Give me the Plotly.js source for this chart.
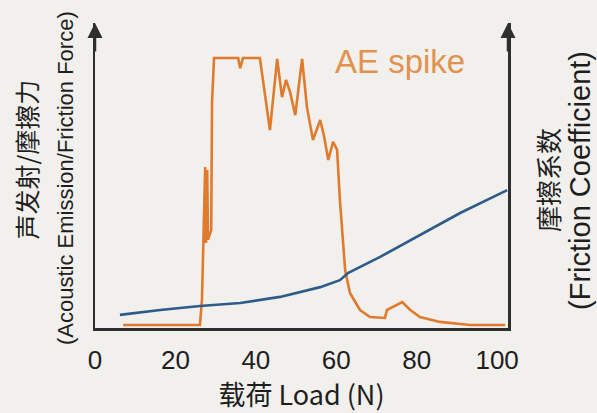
<!DOCTYPE html>
<html>
<head>
<meta charset="utf-8">
<script src="https://cdn.plot.ly/plotly-3.0.1.min.js"></script>
<style>
html,body{margin:0;padding:0;background:#f1f0ec;}
#chart{width:597px;height:413px;}
</style>
</head>
<body>
<div id="chart"></div>
<script>
// Load (N) for acoustic emission / friction force curve
const aeLoad = [7.0, 26.1, 26.6, 26.9, 27.4, 27.6, 27.9, 28.1, 28.9, 29.1, 29.6, 35.6, 36.1, 36.8, 41.0, 43.5, 45.3, 46.5, 47.5, 48.5, 49.8, 51.5, 52.7, 54.2, 56.0, 57.0, 58.0, 59.2, 60.2, 60.9, 61.7, 62.2, 63.4, 65.9, 68.4, 72.1, 72.6, 74.1, 76.4, 78.4, 80.8, 85.8, 93.3, 102.0];
const aeValue = [1.0, 1.0, 9.2, 28.9, 52.8, 27.9, 51.8, 28.9, 32.1, 73.8, 88.5, 88.5, 85.2, 88.5, 88.5, 64.9, 88.2, 75.7, 81.3, 77.4, 69.8, 88.2, 72.5, 61.6, 68.2, 62.6, 55.1, 61.0, 58.4, 42.0, 25.6, 19.0, 11.5, 5.9, 3.6, 3.3, 5.9, 6.9, 8.5, 5.9, 3.6, 2.0, 1.0, 1.0];
// Load (N) for friction coefficient curve
const muLoad = [6.2, 16.2, 26.1, 36.1, 46.0, 56.0, 60.9, 62.9, 70.9, 80.8, 90.8, 102.5];
const muValue = [0.043, 0.059, 0.072, 0.082, 0.102, 0.134, 0.157, 0.180, 0.233, 0.305, 0.377, 0.452];
const xTicks = [0, 20, 40, 60, 80, 100];

const bg = '#f1f0ec';
const axisColor = '#2f2f2f';

const traces = [
  {x: aeLoad, y: aeValue, type: 'scatter', mode: 'lines', name: 'AE',
   line: {color: '#e07a2c', width: 2.6}, yaxis: 'y', showlegend: false},
  {x: muLoad, y: muValue, type: 'scatter', mode: 'lines', name: 'μ',
   line: {color: '#2d5b8a', width: 2.6}, yaxis: 'y2', showlegend: false}
];

const layout = {
  width: 597, height: 413,
  paper_bgcolor: bg, plot_bgcolor: bg,
  margin: {l: 95, r: 89, t: 23, b: 85},
  showlegend: false,
  xaxis: {
    range: [0, 102.7], showgrid: false, zeroline: false,
    showline: true, linecolor: axisColor, linewidth: 2.5,
    tickvals: xTicks, ticktext: xTicks.map(String), ticks: '',
    ticklabelstandoff: 7,
    tickfont: {family: 'Liberation Sans, Arial, sans-serif', size: 26, color: '#1e1e1e'},
    title: {text: '载荷 Load (N)', standoff: 6,
      font: {family: 'Noto Sans CJK SC, sans-serif', size: 27, color: '#1e1e1e'}}
  },
  yaxis: {
    range: [0, 100], showgrid: false, zeroline: false,
    showline: true, linecolor: axisColor, linewidth: 2.5,
    showticklabels: false, ticks: ''
  },
  yaxis2: {
    range: [0, 1], overlaying: 'y', side: 'right', showgrid: false, zeroline: false,
    showline: true, linecolor: axisColor, linewidth: 2.5,
    showticklabels: false, ticks: ''
  },
  annotations: [
    {xref: 'paper', yref: 'paper', x: 0, y: 1, ax: 0, ay: 30, text: '', showarrow: true,
     arrowhead: 2, arrowsize: 1.2, arrowwidth: 2.5, arrowcolor: axisColor},
    {xref: 'paper', yref: 'paper', x: 1, y: 1, ax: 0, ay: 30, text: '', showarrow: true,
     arrowhead: 2, arrowsize: 1.2, arrowwidth: 2.5, arrowcolor: axisColor},
    {xref: 'paper', yref: 'paper', x: 0.739, y: 0.875, xanchor: 'center', yanchor: 'middle',
     text: 'AE spike', showarrow: false,
     font: {family: 'Liberation Sans, Arial, sans-serif', size: 33, color: '#e3914f'}},
    {xref: 'paper', yref: 'paper', x: -0.168, y: 0.551, xanchor: 'center', yanchor: 'middle',
     textangle: -90, text: '声发射/摩擦力', showarrow: false,
     font: {family: 'Noto Sans CJK SC, sans-serif', size: 25, color: '#1e1e1e'}},
    {xref: 'paper', yref: 'paper', x: -0.07, y: 0.492, xanchor: 'center', yanchor: 'middle',
     textangle: -90, text: '(Acoustic Emission/Friction Force)', showarrow: false,
     font: {family: 'Liberation Sans, Arial, sans-serif', size: 22, color: '#1e1e1e'}},
    {xref: 'paper', yref: 'paper', x: 1.094, y: 0.485, xanchor: 'center', yanchor: 'middle',
     textangle: -90, text: '摩擦系数', showarrow: false,
     font: {family: 'Noto Sans CJK SC, sans-serif', size: 26, color: '#1e1e1e'}},
    {xref: 'paper', yref: 'paper', x: 1.174, y: 0.485, xanchor: 'center', yanchor: 'middle',
     textangle: -90, text: '(Friction Coefficient)', showarrow: false,
     font: {family: 'Liberation Sans, Arial, sans-serif', size: 29, color: '#1e1e1e'}}
  ]
};

Plotly.newPlot('chart', traces, layout, {displayModeBar: false, staticPlot: true});
</script>
</body>
</html>
